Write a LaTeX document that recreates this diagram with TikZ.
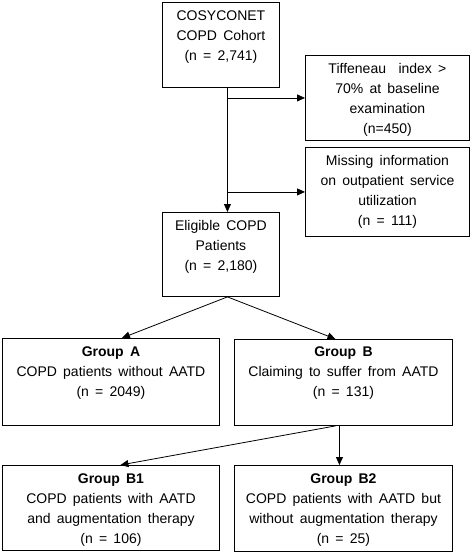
\documentclass[tikz,border=0pt]{standalone}
\usepackage{fontspec}
\setmainfont[WordSpace=1.6]{Liberation Sans}
\usetikzlibrary{arrows.meta,calc}
\begin{document}
\begin{tikzpicture}[x=1pt,y=-1pt,
  box/.style={draw, line width=0.9pt, inner sep=0pt, anchor=north west},
  txt/.style={anchor=north, inner sep=0pt, align=center, font=\fontsize{14}{20}\selectfont},
  arr/.style={line width=0.8pt, -{Triangle[length=8pt,width=7pt]}}]
\useasboundingbox[fill=white] (0,0) rectangle (472,553);
\node[box, minimum width=117pt, minimum height=85pt] (top) at (162,2) {};
\node[box, minimum width=164pt, minimum height=85pt] (tiff) at (305,55) {};
\node[box, minimum width=164pt, minimum height=89pt] (miss) at (305,147) {};
\node[box, minimum width=117pt, minimum height=84pt] (elig) at (162,212) {};
\node[box, minimum width=217pt, minimum height=87pt] (gA) at (2,338) {};
\node[box, minimum width=218pt, minimum height=86pt] (gB) at (234,339) {};
\node[box, minimum width=217pt, minimum height=85pt] (gB1) at (2,465) {};
\node[box, minimum width=218pt, minimum height=86pt] (gB2) at (234,465) {};

\node[txt] (toptxt) at ($(top.north)+(0,8.5)$) {COSYCONET\\COPD Cohort\\(n = 2,741)};
\node[txt] (tifftxt) at ($(tiff.north)+(0,8.5)$) {Tiffeneau\ \ index >\\70\% at baseline\\examination\\(n=450)};
\node[txt] (misstxt) at ($(miss.north)+(0,8.5)$) {Missing information\\on outpatient service\\utilization\\(n = 111)};
\node[txt] (eligtxt) at ($(elig.north)+(0,8.5)$) {Eligible COPD\\Patients\\(n = 2,180)};
\node[txt] (gAtxt) at ($(gA.north)+(0,9)$) {\textbf{Group A}\\COPD patients without AATD\\(n = 2049)};
\node[txt] (gBtxt) at ($(gB.north)+(0,8)$) {\textbf{Group B}\\Claiming to suffer from AATD\\(n = 131)};
\node[txt] (gB1txt) at ($(gB1.north)+(0,8.5)$) {\textbf{Group B1}\\COPD patients with AATD\\and augmentation therapy\\(n = 106)};
\node[txt] (gB2txt) at ($(gB2.north)+(0,8.5)$) {\textbf{Group B2}\\COPD patients with AATD but\\without augmentation therapy\\(n = 25)};

\coordinate (vtop) at ($(top.south)+(6.5,0)$);
\coordinate (veli) at ($(elig.north)+(6.5,0)$);
\coordinate (vbot) at ($(elig.south)+(6.5,0)$);
\draw[arr] (vtop) -- (veli);
\draw[arr] (vtop |- tiff.west) -- (tiff.west);
\draw[arr] (vtop |- miss.west) -- (miss.west);
\draw[arr] (vbot) -- ($(gA.north)+(11,0)$);
\draw[arr] (vbot) -- ($(gB.north)+(-8,0)$);
\draw[arr] ($(gB.south)+(-8,0)$) -- ($(gB1.north)+(9.5,0)$);
\draw[arr] ($(gB.south)+(-4,0)$) -- ($(gB2.north)+(-4,0)$);
\end{tikzpicture}
\end{document}
